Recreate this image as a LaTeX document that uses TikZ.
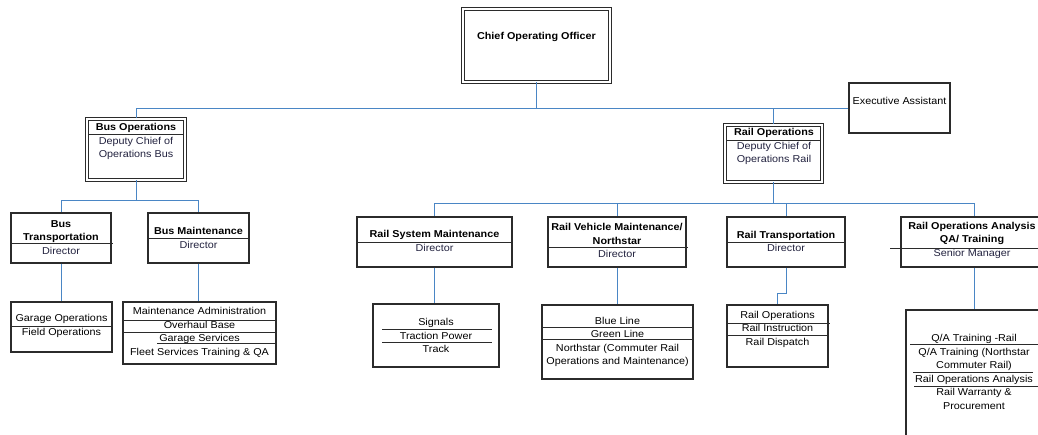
\documentclass[tikz,border=0pt]{standalone}
\usepackage{fontspec}
\setmainfont[FakeStretch=1.08]{Liberation Sans}
\usepackage{xcolor}
\usepackage{tikz}
\usetikzlibrary{positioning}
\definecolor{linkblue}{HTML}{4A86C5}
\definecolor{boxgray}{HTML}{2B2B2B}
\definecolor{subnavy}{HTML}{22223F}
\newcommand{\boxhead}[1]{\textcolor{black}{\bfseries #1}}

\begin{document}
\begin{tikzpicture}[x=1pt, y=-1pt,
		every node/.style={font=\fontsize{10}{13.5}\selectfont},
		box/.style={draw=boxgray, line width=1.1pt, inner sep=0pt},
		headbox/.style={box, double, double distance=2pt, line width=1pt},
		link/.style={draw=linkblue, line width=0.9pt},
		sep/.style={draw=boxgray, line width=0.9pt},
		txt/.style={align=center, text=subnavy, inner sep=0pt}]
		\fill[white] (0,0) rectangle (1038,435);
		\useasboundingbox (0,0) rectangle (1038,435);
		\clip (0,0) rectangle (1038,435);
		
		\node[headbox, minimum width=147pt, minimum height=73pt] (coo) at (536.5,45.5) {};
		\node[box, minimum width=101pt, minimum height=50pt] (exec) at (899.5,108) {};
		\node[headbox, minimum width=98pt, minimum height=61pt] (busops) at (136,149.5) {};
		\node[headbox, minimum width=97pt, minimum height=57pt] (railops) at (773.5,153.5) {};
		
		\node[box, minimum width=100pt, minimum height=50pt] (bustr) at (61,238) {};
		\node[box, minimum width=101pt, minimum height=50pt] (busmt) at (198.5,238) {};
		\node[box, minimum width=155pt, minimum height=50pt] (rsm) at (434.5,242) {};
		\node[box, minimum width=138pt, minimum height=50pt] (rvm) at (617,242) {};
		\node[box, minimum width=118pt, minimum height=50pt] (rtr) at (786,242) {};
		\node[box, minimum width=146pt, minimum height=50pt] (roa) at (974,242) {};
		
		\node[box, minimum width=101pt, minimum height=50pt] (garage) at (61.5,327) {};
		\node[box, minimum width=153pt, minimum height=62pt] (maint) at (199.5,333) {};
		\node[box, minimum width=126pt, minimum height=63pt] (signals) at (436,335.5) {};
		\node[box, minimum width=151pt, minimum height=74pt] (blue) at (617.5,342) {};
		\node[box, minimum width=101pt, minimum height=62pt] (railop2) at (777.5,336) {};
		\node[box, minimum width=136pt, minimum height=140pt] (qa) at (974,380) {};
		
		\node[txt] (coo-t) at (536.5,37) {\boxhead{Chief Operating Officer}};
		\node[txt, text=black] (exec-t) at (899.5,101) {Executive Assistant};
		\node[txt] (busops-t) at (136,141.5) {\boxhead{Bus Operations}\\Deputy Chief of\\Operations Bus};
		\node[txt] (railops-t) at (774,146.5) {\boxhead{Rail Operations}\\Deputy Chief of\\Operations Rail};
		\node[txt] (bustr-t) at (61,237.5) {\boxhead{Bus}\\\boxhead{Transportation}\\Director};
		\node[txt] (busmt-t) at (198.5,238) {\boxhead{Bus Maintenance}\\Director};
		\node[txt] (rsm-t) at (434.5,241) {\boxhead{Rail System Maintenance}\\Director};
		\node[txt] (rvm-t) at (617,240.5) {\boxhead{Rail Vehicle Maintenance/}\\\boxhead{Northstar}\\Director};
		\node[txt] (rtr-t) at (786,241.5) {\boxhead{Rail Transportation}\\Director};
		\node[txt] (roa-t) at (972,240) {\boxhead{Rail Operations Analysis}\\\boxhead{QA/ Training}\\Senior Manager};
		
		\node[txt, text=black] (garage-t) at (61.5,326) {Garage Operations\\Field Operations};
		\node[txt, text=black] (maint-t) at (199.5,332.5) {Maintenance Administration\\Overhaul Base\\Garage Services\\Fleet Services Training \& QA};
		\node[txt, text=black] (signals-t) at (436,335.5) {Signals\\Traction Power\\Track};
		\node[txt, text=black] (blue-t) at (617.5,342) {Blue Line\\Green Line\\Northstar (Commuter Rail\\Operations and Maintenance)};
		\node[txt, text=black] (railop2-t) at (777.5,329) {Rail Operations\\Rail Instruction\\Rail Dispatch};
		\node[txt, text=black] (qa-t) at (974,372) {Q/A Training -Rail\\Q/A Training (Northstar\\Commuter Rail)\\Rail Operations Analysis\\Rail Warranty \&\\Procurement};
		
		\draw[sep] (89,134) -- (183,134);
		\draw[sep] (727,140) -- (820,140);
		\draw[sep] (11,243) -- (113,243);
		\draw[sep] (148,238) -- (249,238);
		\draw[sep] (357,242) -- (512,242);
		\draw[sep] (548,247) -- (688,247);
		\draw[sep] (727,242) -- (845,242);
		\draw[sep] (890,248) -- (1038,248);
		\draw[sep] (11,326) -- (112,326);
		\draw[sep] (123,320) -- (276,320);
		\draw[sep] (123,332) -- (276,332);
		\draw[sep] (157,343) -- (276,343);
		\draw[sep] (382,329) -- (492,329);
		\draw[sep] (382,342) -- (492,342);
		\draw[sep] (542,327) -- (693,327);
		\draw[sep] (542,339) -- (693,339);
		\draw[sep] (727,323) -- (830,323);
		\draw[sep] (727,335) -- (828,335);
		\draw[sep] (910,344) -- (1038,344);
		\draw[sep] (913,372) -- (1033,372);
		\draw[sep] (914,386) -- (1038,386);
		
		\draw[link] (coo.south) |- (exec.west);
		\draw[link] (busops.north) |- (exec.west);
		\draw[link] (railops.north) -- (railops.north |- exec.west);
		\draw[link] (busops.south) -- ++(0,20) -| (bustr.north);
		\draw[link] (busops.south) -- ++(0,20) -| (busmt.north);
		\draw[link] (railops.south) -- ++(0,21) -| (rsm.north);
		\draw[link] (railops.south) -- ++(0,21) -| (rvm.north);
		\draw[link] (railops.south) -- ++(0,21) -| (rtr.north);
		\draw[link] (railops.south) -- ++(0,21) -| (roa.north);
		\draw[link] (bustr.south) -- (bustr.south |- garage.north);
		\draw[link] (busmt.south) -- (busmt.south |- maint.north);
		\draw[link] (rsm.south) -- (rsm.south |- signals.north);
		\draw[link] (rvm.south) -- (rvm.south |- blue.north);
		\draw[link] (rtr.south) -- ++(0,26) -| (railop2.north);
		\draw[link] (roa.south) -- (qa.north);
	\end{tikzpicture}
\end{document}
